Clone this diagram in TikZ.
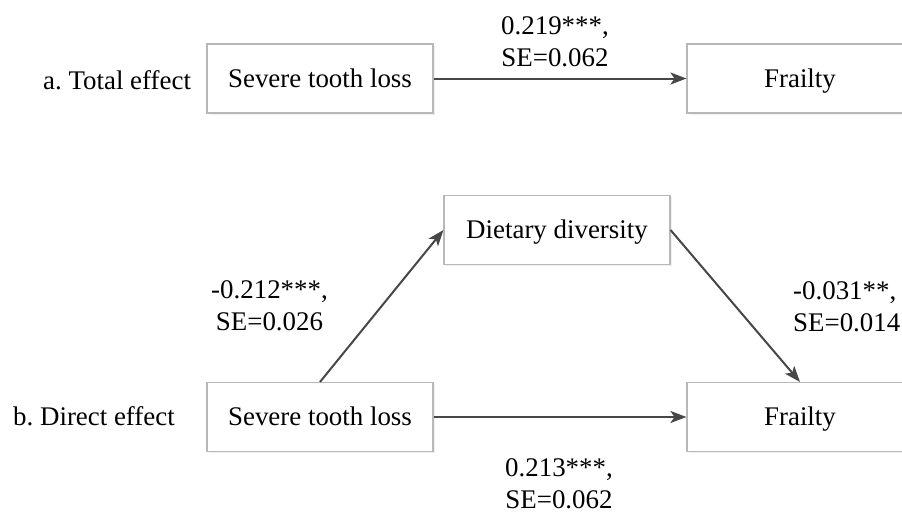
\documentclass[tikz,border=0pt]{standalone}
\usepackage{fontspec}
\setmainfont{Liberation Serif}
\usetikzlibrary{arrows.meta,shadows}
\frenchspacing
\begin{document}
\begin{tikzpicture}[x=1pt,y=-1pt,
  font=\fontsize{26.9}{32.4}\selectfont,
  box/.style={draw=black!28, line width=1.1pt, fill=white, minimum width=226pt, minimum height=69pt,
    inner sep=0pt, text height=17pt, text depth=0pt,
    drop shadow={opacity=0.12, shadow xshift=1.5pt, shadow yshift=-1.5pt}},
  conn/.style={draw=black!72, line width=2pt, -{Stealth[length=16pt,width=12pt,inset=4pt]}},
  lab/.style={inner sep=0pt}]
\useasboundingbox (0,0) rectangle (902,515);
\node[box] (sev1) at (320,78.5) {Severe tooth loss};
\node[box] (fr1) at (800,78.5) {Frailty};
\node[box] (diet) at (557,230) {Dietary diversity};
\node[box] (sev2) at (320,417) {Severe tooth loss};
\node[box] (fr2) at (800,417) {Frailty};
\draw[conn] (sev1) -- (fr1);
\draw[conn] (sev2.north) -- (diet.west);
\draw[conn] (diet.east) -- (fr2.north);
\draw[conn] (sev2) -- (fr2);
\node[lab, align=center, anchor=south] (l1) at (555,67) {0.219***,\\SE=0.062};
\node[lab, align=center, anchor=south] (l2) at (269.5,331) {-0.212***,\\SE=0.026};
\node[lab, align=left, anchor=south west] (l3) at (793,332) {-0.031**,\\SE=0.014};
\node[lab, align=center, anchor=south] (l4) at (559,509) {0.213***,\\SE=0.062};
\node[lab, anchor=base west] (ta) at (43,89) {a. Total effect};
\node[lab, anchor=base west] (tb) at (13,425) {b. Direct effect};
\end{tikzpicture}
\end{document}
